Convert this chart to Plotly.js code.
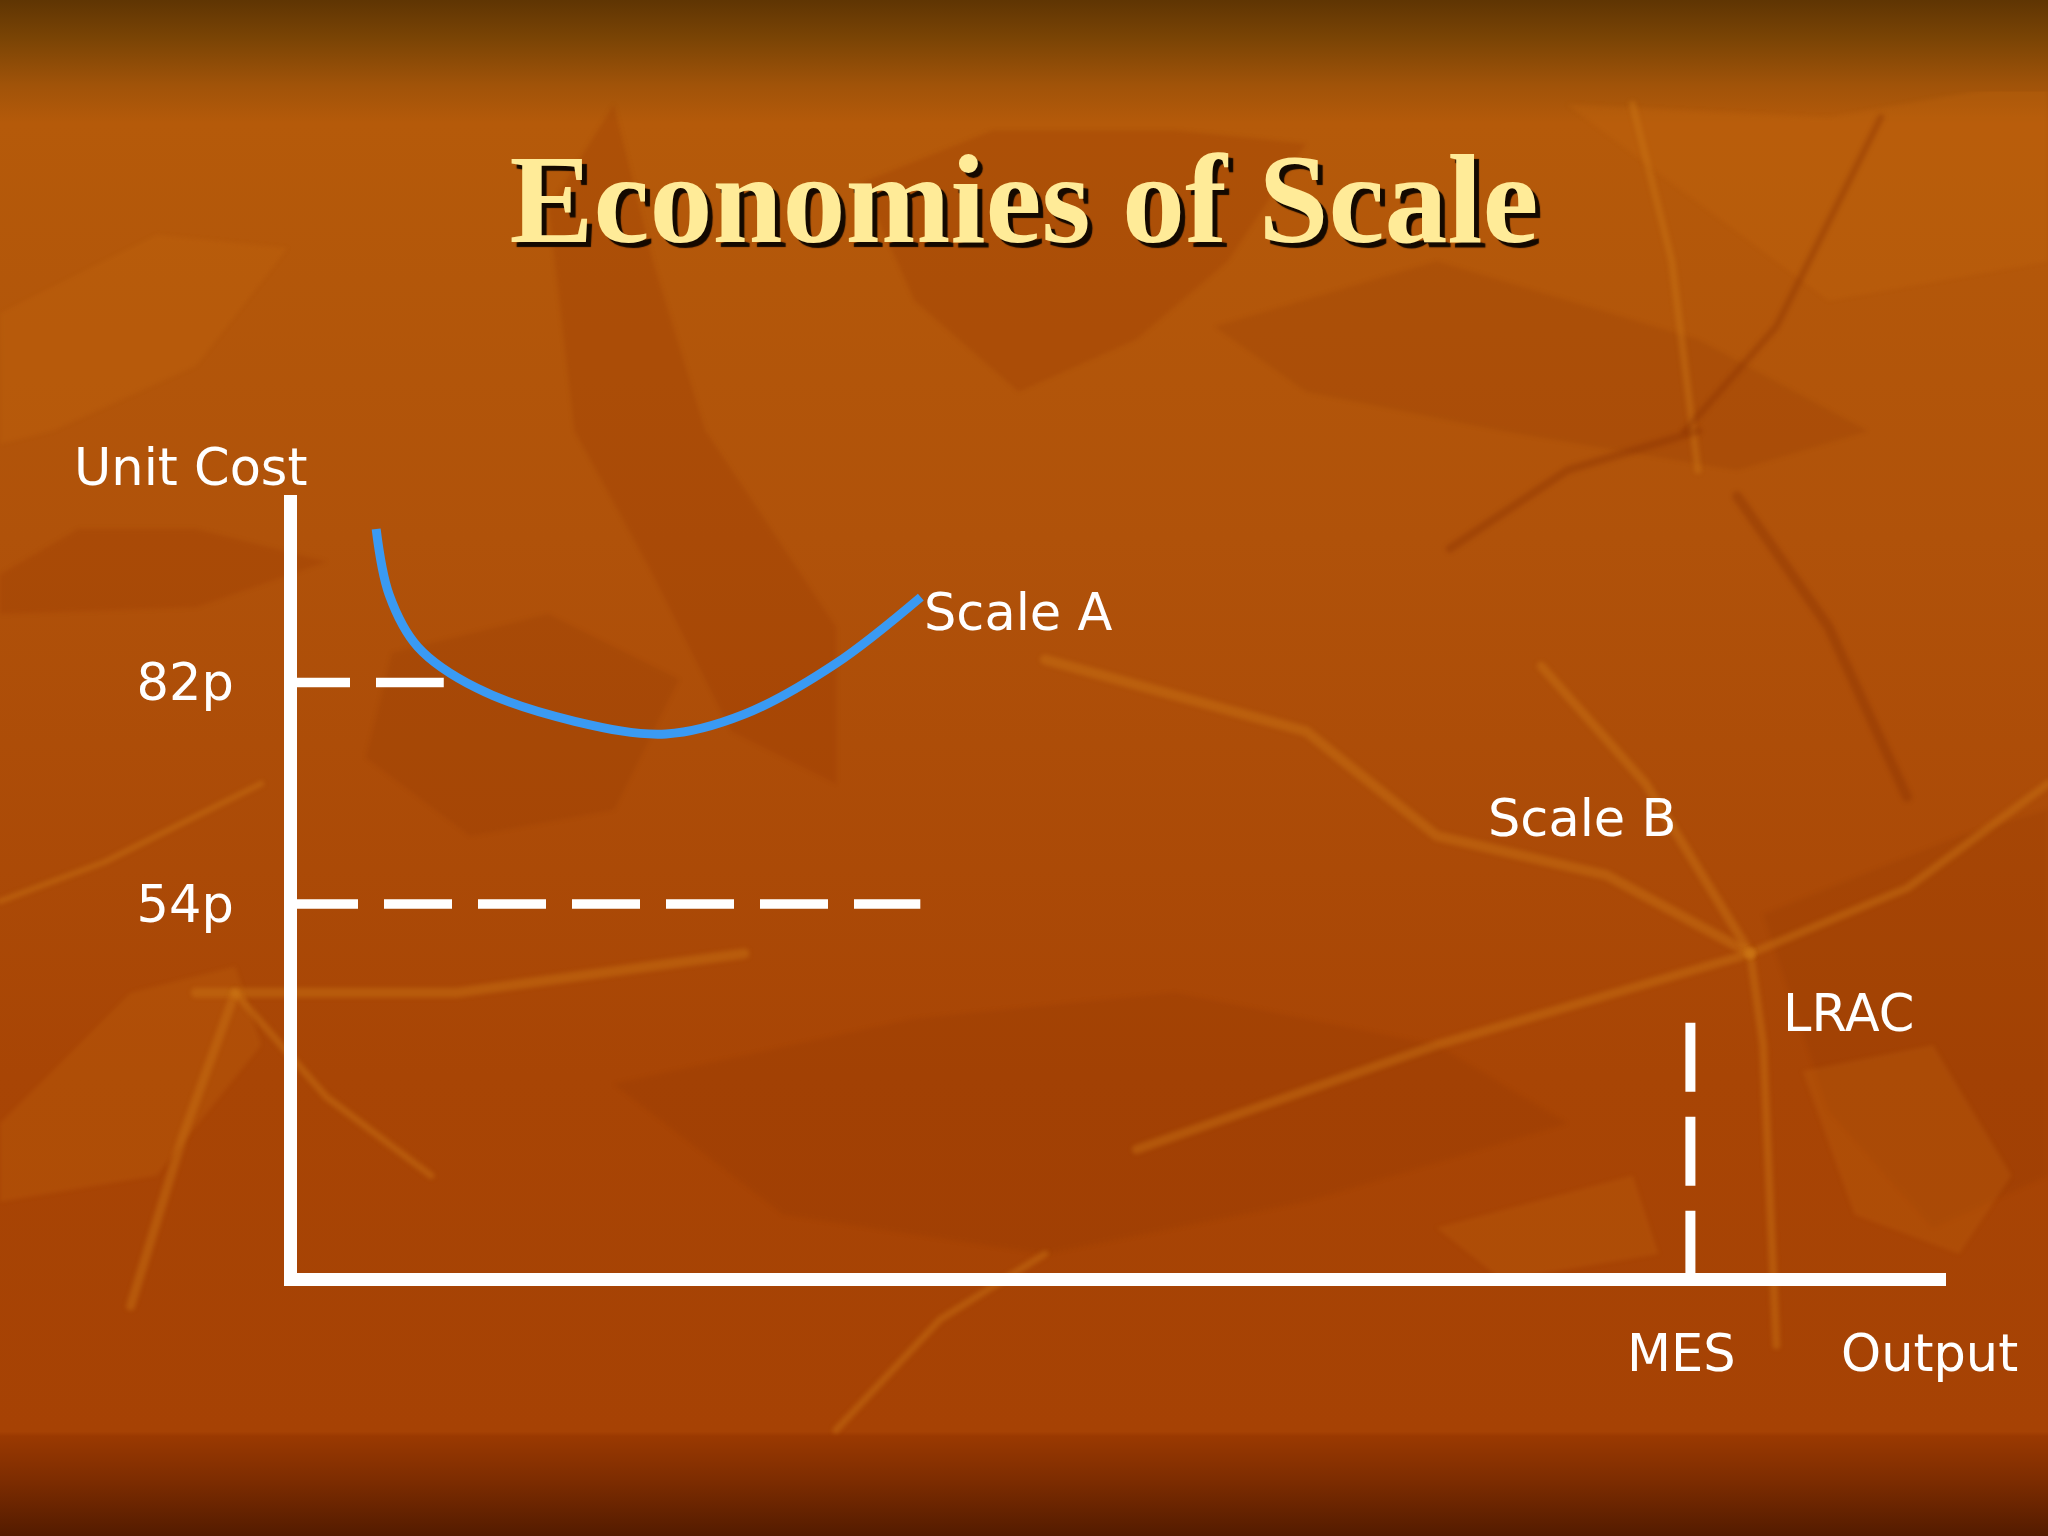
<!DOCTYPE html>
<html>
<head>
<meta charset="utf-8">
<script src="https://cdn.plot.ly/plotly-3.0.1.min.js"></script>
<style>
html,body{margin:0;padding:0;background:#a94a05;overflow:hidden}
#chart{width:2048px;height:1536px}
</style>
</head>
<body>
<div id="chart"></div>
<script>
// ---------------- data ----------------
// Scale A short-run average cost curve: output vs unit cost (pence)
const scaleAOutput = [4.80, 5.59, 7.33, 10.90, 16.84, 22.38, 27.14, 32.68, 37.83];
const scaleACost   = [101.4, 93.1, 86.5, 81.3, 77.1, 75.5, 78.0, 84.4, 92.8];

// reference cost levels
const costLevels = [82, 54];
const costLabels = ['82p', '54p'];
const level82Output = [0, 8.9];
const level54Output = [0, 37.8];

// minimum efficient scale
const mesOutput = 84.5;
const mesCost = [39, 7.36];

// axis ranges
const outputRange = [0, 100];
const costRange = [7.36, 105.7];

// text labels
const titleText = 'Economies of Scale';
const yAxisLabel = 'Unit Cost';
const xAxisLabel = 'Output';
const mesLabel = 'MES';
const curveLabels = ['Scale A', 'Scale B', 'LRAC'];

// ---------------- layout constants ----------------
const W = 2048, H = 1536;
const M = {l: 297, r: 102, t: 495, b: 263};
const PW = W - M.l - M.r, PH = H - M.t - M.b;

// decorative leaf backdrop (drawn on a canvas, used as a layout image)
function buildBackdrop(w, h) {
  const c = document.createElement('canvas');
  c.width = w; c.height = h;
  const g = c.getContext('2d');
  const s = w / 1568;
  let grad = g.createLinearGradient(0, 0, 0, h);
  grad.addColorStop(0, '#5f3503');
  grad.addColorStop(0.025, '#7a4405');
  grad.addColorStop(0.055, '#a05309');
  grad.addColorStop(0.08, '#b55a0a');
  grad.addColorStop(0.35, '#b0520a');
  grad.addColorStop(0.7, '#a84505');
  grad.addColorStop(0.932, '#a64204');
  grad.addColorStop(0.935, '#9a3901');
  grad.addColorStop(0.965, '#7c2c01');
  grad.addColorStop(1, '#531b00');
  g.fillStyle = grad;
  g.fillRect(0, 0, w, h);

  function poly(pts, col) {
    g.save();
    g.beginPath();
    pts.forEach((p, i) => i ? g.lineTo(p[0] * s, p[1] * s) : g.moveTo(p[0] * s, p[1] * s));
    g.closePath();
    g.fillStyle = col;
    g.fill();
    g.restore();
  }
  function line(pts, col, lw) {
    g.save();
    g.beginPath();
    pts.forEach((p, i) => i ? g.lineTo(p[0] * s, p[1] * s) : g.moveTo(p[0] * s, p[1] * s));
    g.strokeStyle = col;
    g.lineWidth = lw;
    g.lineJoin = 'round';
    g.lineCap = 'round';
    g.stroke();
    g.restore();
  }
  g.save();
  g.beginPath(); g.rect(0, 70 * s, w, 1030 * s); g.clip();
  g.filter = 'blur(2px)';
  const dark = 'rgba(150,55,0,0.26)';
  const dark2 = 'rgba(140,48,0,0.18)';
  const light = 'rgba(196,104,16,0.26)';
  poly([[0,440],[60,405],[150,405],[250,430],[150,465],[0,470]], dark);
  poly([[420,160],[470,80],[500,200],[540,330],[600,420],[640,480],[640,600],[560,560],[500,440],[440,330]], dark);
  poly([[660,140],[760,100],[900,100],[1000,110],[940,200],[870,260],[780,300],[700,230]], dark);
  poly([[930,250],[1100,200],[1300,260],[1430,330],[1330,360],[1150,330],[1000,300]], dark2);
  poly([[470,830],[700,780],[900,760],[1100,800],[1200,860],[1000,920],[800,960],[600,930]], dark2);
  poly([[1350,700],[1500,640],[1568,620],[1568,900],[1480,940],[1400,850]], dark2);
  poly([[300,500],[420,470],[520,520],[470,620],[360,640],[280,580]], dark2);
  poly([[0,860],[100,760],[180,740],[200,800],[120,900],[0,920]], light);
  poly([[1100,940],[1250,900],[1270,960],[1150,980]], light);
  poly([[1200,80],[1400,90],[1568,60],[1568,200],[1400,230]], light);
  poly([[0,240],[120,180],[220,190],[150,280],[40,330],[0,340]], light);
  poly([[1380,820],[1480,800],[1540,900],[1500,960],[1420,930]], light);
  const vein = 'rgba(206,118,22,0.42)';
  line([[800,505],[1000,560],[1100,640],[1230,670],[1340,730]], vein, 10);
  line([[1180,510],[1260,600],[1340,730]], vein, 9);
  line([[1340,730],[1460,680],[1568,600]], vein, 8);
  line([[870,880],[1100,800],[1340,730]], vein, 9);
  line([[1340,730],[1350,800],[1360,1030]], vein, 8);
  line([[150,760],[350,760],[570,730]], vein, 10);
  line([[180,760],[140,870],[100,1000]], vein, 9);
  line([[180,760],[250,840],[330,900]], vein, 7);
  line([[1250,80],[1280,200],[1300,360]], vein, 7);
  line([[640,1095],[720,1010],[800,960]], vein, 7);
  line([[0,690],[80,660],[200,600]], vein, 6);
  const dvein = 'rgba(135,45,0,0.35)';
  line([[1330,380],[1400,480],[1460,610]], dvein, 10);
  line([[1290,330],[1360,250],[1440,90]], dvein, 7);
  line([[1110,420],[1200,360],[1300,330]], dvein, 8);
  g.restore();
  return c.toDataURL('image/png');
}

// convert axis values to paper fractions for labels placed outside the plot area
function paperX(v) { return (v - outputRange[0]) / (outputRange[1] - outputRange[0]); }
function paperY(v) { return (v - costRange[0]) / (costRange[1] - costRange[0]); }

const white = '#ffffff';
const traces = [
  {
    x: level82Output, y: [costLevels[0], costLevels[0]],
    mode: 'lines', line: {color: white, width: 9.5, dash: '53px,26px,68px,26px'},
    hoverinfo: 'skip'
  },
  {
    x: level54Output, y: [costLevels[1], costLevels[1]],
    mode: 'lines', line: {color: white, width: 9.5, dash: '61px,26px,68px,26px,68px,26px,68px,26px,68px,26px,68px,26px,68px,26px'},
    hoverinfo: 'skip'
  },
  {
    x: [mesOutput, mesOutput], y: mesCost,
    mode: 'lines', line: {color: white, width: 10, dash: '69px,25px'},
    hoverinfo: 'skip'
  },
  {
    x: scaleAOutput, y: scaleACost,
    mode: 'lines', line: {color: '#3a9af3', width: 9, shape: 'spline', smoothing: 1},
    hoverinfo: 'skip'
  }
];

const labelFont = {family: 'DejaVu Sans, Verdana, sans-serif', size: 51, color: white};
function ann(text, x, y, xanchor) {
  return {text: text, x: paperX(x), y: paperY(y), xref: 'paper', yref: 'paper', xanchor: xanchor, yanchor: 'middle',
          showarrow: false, font: labelFont, borderpad: 0};
}

const layout = {
  width: W, height: H,
  margin: M,
  paper_bgcolor: '#a94a05',
  plot_bgcolor: 'rgba(0,0,0,0)',
  showlegend: false,
  hovermode: false,
  title: {
    text: titleText,
    x: 0.5, xref: 'container', xanchor: 'center',
    y: 1 - 198 / H, yref: 'container', yanchor: 'middle',
    font: {family: 'Liberation Serif, Times New Roman, serif', size: 126, color: '#ffeb98',
           weight: 'bold', shadow: '5px 5px 1px #140900'}
  },
  xaxis: {
    range: outputRange, showgrid: false, zeroline: false,
    showline: true, linecolor: white, linewidth: 13,
    ticks: '', showticklabels: false, fixedrange: true
  },
  yaxis: {
    range: costRange, showgrid: false, zeroline: false,
    showline: true, linecolor: white, linewidth: 13,
    ticks: '', tickvals: costLevels, ticktext: costLabels,
    tickfont: labelFont, ticklabelstandoff: 40, fixedrange: true
  },
  annotations: [
    ann(yAxisLabel, -13.58, 109.2, 'left'),
    ann(curveLabels[0], 37.96, 90.8, 'left'),
    ann(curveLabels[1], 72.17, 64.87, 'left'),
    ann(curveLabels[2], 90.05, 40.1, 'left'),
    ann(mesLabel, 83.93, -2.76, 'center'),
    ann(xAxisLabel, 93.57, -2.76, 'left')
  ],
  images: [{
    source: buildBackdrop(W, H),
    xref: 'paper', yref: 'paper',
    x: -M.l / PW, y: 1 + M.t / PH,
    sizex: W / PW, sizey: H / PH,
    xanchor: 'left', yanchor: 'top',
    sizing: 'stretch', layer: 'below'
  }]
};

Plotly.newPlot('chart', traces, layout, {staticPlot: true, displayModeBar: false});
</script>
</body>
</html>
